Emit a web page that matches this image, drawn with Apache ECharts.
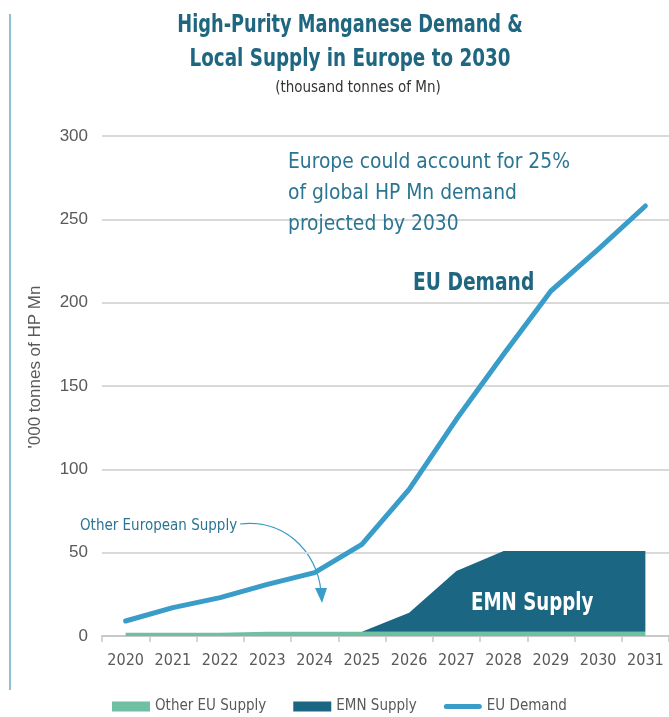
<!DOCTYPE html>
<html><head><meta charset="utf-8">
<script src="https://cdn.jsdelivr.net/npm/echarts@6/dist/echarts.min.js"></script>
<style>html,body{margin:0;padding:0;background:#fff}#c{width:669px;height:717px}</style>
</head><body><div id="c"></div>
<script>
const years = ['2020','2021','2022','2023','2024','2025','2026','2027','2028','2029','2030','2031'];
const otherEU = [2,2,2,2.5,2.5,2.5,2.5,2.5,2.5,2.5,2.5,2.5];
const emn = [0,0,0,0,0,0,11.5,36.5,48.5,48.5,48.5,48.5];
const euDemand = [9,17,23,31,38,55,88,130,169,207,232,258];
const yTicks = {min:0, max:300, interval:50};

const NARROW = '"DejaVu Sans Condensed","Liberation Sans",sans-serif';
const ARIAL = '"Liberation Sans",Arial,sans-serif';
function ctext(txt, cx, cy, size, weight, fill, sx) {
  return {type:'text', x:cx, y:cy, scaleX:sx, z:20,
    style:{text:txt, fontFamily:NARROW, fontSize:size, fontWeight:weight, fill:fill,
      align:'center', verticalAlign:'middle'}};
}
function ltext(txt, lx, cy, size, weight, fill, sx, lh) {
  return {type:'text', x:lx, y:cy, scaleX:sx, z:20,
    style:{text:txt, fontFamily:NARROW, fontSize:size, fontWeight:weight, fill:fill,
      align:'left', verticalAlign:'middle', lineHeight:lh}};
}
const chart = echarts.init(document.getElementById('c'), null, {renderer:'canvas'});
chart.setOption({
  animation:false,
  legend:{
    top:694, left:107, itemWidth:38, itemHeight:10, itemGap:27,
    textStyle:{fontFamily:NARROW, fontSize:15, color:'#595959'},
    data:[
      {name:'Other EU Supply', icon:'rect'},
      {name:'EMN Supply', icon:'rect'},
      {name:'EU Demand', icon:'path://M2.5,0 L35.5,0 A2.5,2.5 0 0 1 35.5,5 L2.5,5 A2.5,2.5 0 0 1 2.5,0 Z'}
    ]
  },
  grid:{left:102, right:0, top:136, bottom:81},
  xAxis:{
    type:'category', data:years, boundaryGap:true,
    axisLine:{lineStyle:{color:'#c8c8c8', width:2}},
    axisTick:{show:true, length:6, lineStyle:{color:'#c8c8c8', width:1.5}},
    axisLabel:{fontFamily:NARROW, fontSize:16, color:'#595959', margin:17, interval:0}
  },
  yAxis:{
    type:'value', min:yTicks.min, max:yTicks.max, interval:yTicks.interval,
    name:"'000 tonnes of HP Mn", nameLocation:'middle', nameGap:58,
    nameTextStyle:{fontFamily:ARIAL, fontSize:17, color:'#595959', padding:[0,0,0,38]},
    axisLine:{show:false}, axisTick:{show:false},
    axisLabel:{fontFamily:ARIAL, fontSize:17, color:'#595959', margin:14},
    splitLine:{lineStyle:{color:'#d9d9d9', width:2}}
  },
  series:[
    {name:'Other EU Supply', type:'line', stack:'supply', data:otherEU, symbol:'none',
     lineStyle:{width:0}, itemStyle:{color:'#6fc0a2'}, areaStyle:{color:'#6fc0a2', opacity:1}},
    {name:'EMN Supply', type:'line', stack:'supply', data:emn, symbol:'none',
     lineStyle:{width:0}, itemStyle:{color:'#1a6683'}, areaStyle:{color:'#1a6683', opacity:1}},
    {name:'EU Demand', type:'line', data:euDemand, symbol:'none', z:5,
     lineStyle:{width:5, color:'#3a9dc9', cap:'round', join:'round'}, itemStyle:{color:'#3a9dc9'}}
  ],
  graphic:[
    {type:'line', shape:{x1:10,y1:14,x2:10,y2:690}, style:{stroke:'#8dc0d2', lineWidth:2}},
    ctext('High-Purity Manganese Demand &', 350, 25, 25, 'bold', '#1f6680', 0.79),
    ctext('Local Supply in Europe to 2030', 350, 59, 25, 'bold', '#1f6680', 0.815),
    ctext('(thousand tonnes of Mn)', 358, 88, 15, 'normal', '#333333', 1.0),
    ltext('Europe could account for 25%\nof global HP Mn demand\nprojected by 2030', 288, 194, 21, 'normal', '#2a7592', 0.99, 31),
    ltext('EU Demand', 413, 283, 25, 'bold', '#1f6680', 0.83, 30),
    ltext('EMN Supply', 471, 603, 25, 'bold', '#ffffff', 0.81, 30),
    ltext('Other European Supply', 80, 526, 15, 'normal', '#2a7592', 1, 18),
    {type:'bezierCurve', shape:{x1:240,y1:524,cpx1:290,cpy1:518,cpx2:322,cpy2:560,x2:321,y2:598}, style:{stroke:'#3a9dc9', lineWidth:1.2, fill:null}},
    {type:'polygon', shape:{points:[[315,588],[327,588],[322,603]]}, style:{fill:'#3a9dc9'}}
  ]
});
</script></body></html>
